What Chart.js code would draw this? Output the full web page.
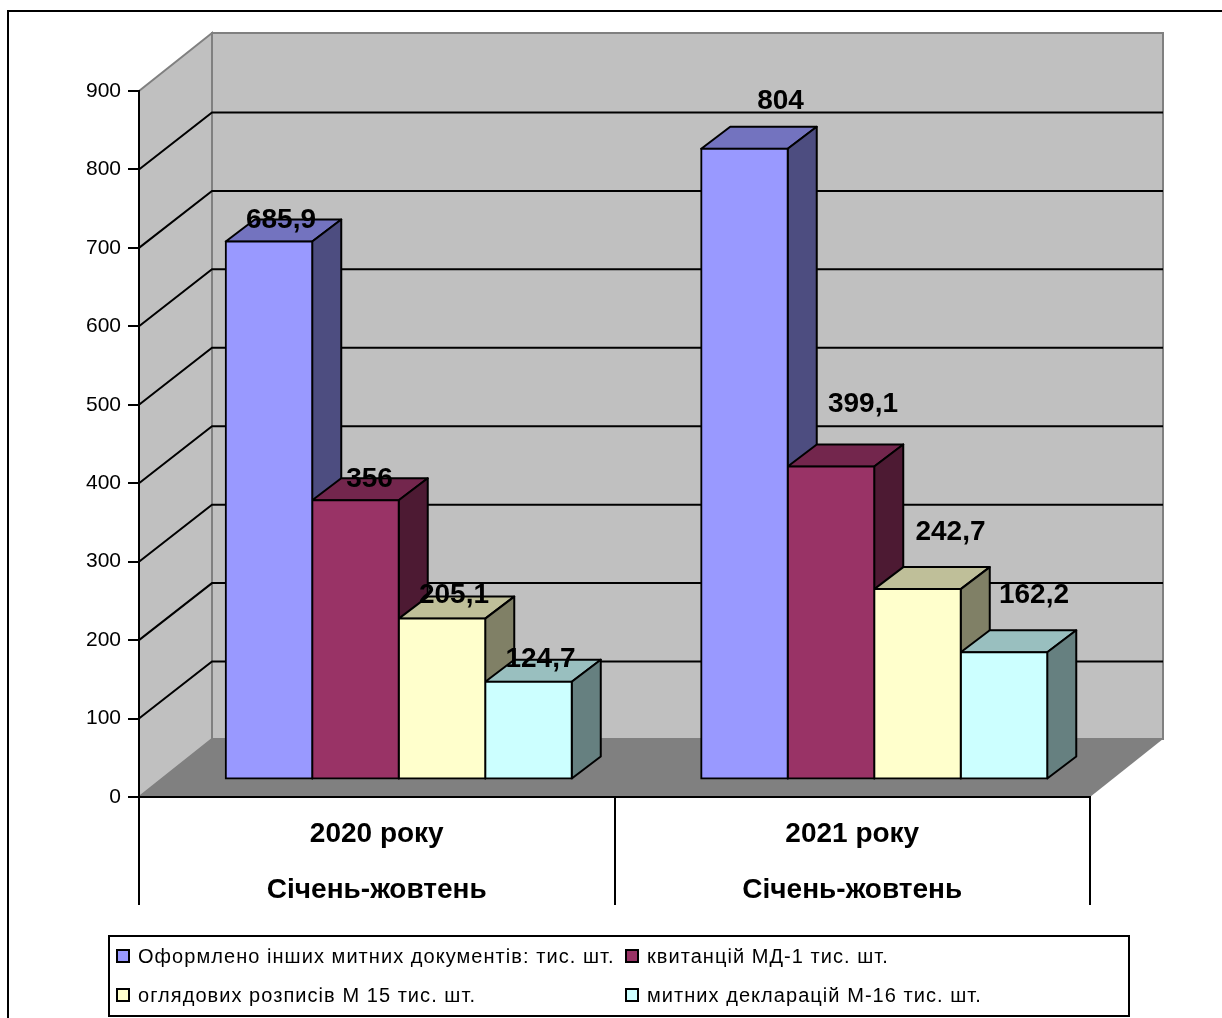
<!DOCTYPE html>
<html>
<head>
<meta charset="utf-8">
<script src="https://cdn.jsdelivr.net/npm/chart.js@4"></script>
<style>
  body { margin: 0; background: #fff; }
  canvas { display: block; }
</style>
</head>
<body>
<canvas id="chart" width="1222" height="1018"></canvas>
<script>
const categories = [['2020 року', 'Січень-жовтень'], ['2021 року', 'Січень-жовтень']];
const seriesNames = [
  'Оформлено інших митних документів: тис. шт.',
  'квитанцій МД-1 тис. шт.',
  'оглядових розписів М 15 тис. шт.',
  'митних декларацій М-16 тис. шт.'
];
const otherDocs = [685.9, 804];
const receipts = [356, 399.1];
const inspections = [205.1, 242.7];
const declarations = [124.7, 162.2];
const seriesValues = [otherDocs, receipts, inspections, declarations];
const seriesColors = ['#9999FF', '#993366', '#FFFFCC', '#CCFFFF'];
const topColors = ['#7373BF', '#73264D', '#BFBF99', '#99BFBF'];
const sideColors = ['#4D4D80', '#4D1A33', '#808066', '#668080'];

// excel's 3d look: how far the back wall and the bars sit from the front plane
const WALL_DX = 73, WALL_DY = -58, GRID_DY = -57;
const BAR_SHIFT_X = 22, BAR_SHIFT_Y = -17.5;
const BAR_DX = 29, BAR_DY = -22;
const FONT = '"Liberation Sans", Arial, sans-serif';

// data labels were hand placed in the original, offsets from bar front top centre
const labelShift = [
  [[12, -21], [36, -48]],
  [[14, -21], [32, -62]],
  [[12, -23], [33, -57]],
  [[12, -22], [30, -57]]
];

function poly(ctx, pts, fill, stroke, width) {
  ctx.beginPath();
  pts.forEach((p, i) => i ? ctx.lineTo(p[0], p[1]) : ctx.moveTo(p[0], p[1]));
  ctx.closePath();
  if (fill) { ctx.fillStyle = fill; ctx.fill(); }
  if (stroke) { ctx.strokeStyle = stroke; ctx.lineWidth = width; ctx.stroke(); }
}

const walls3d = {
  id: 'walls3d',
  beforeDraw(chart) {
    const { ctx, chartArea: a, scales: { y } } = chart;
    const bx = WALL_DX, by = WALL_DY;
    ctx.save();
    ctx.fillStyle = '#fff';
    ctx.fillRect(0, 0, chart.width, chart.height);
    ctx.strokeStyle = '#000';
    ctx.lineWidth = 2;
    ctx.strokeRect(8, 11, 2000, 2000);

    poly(ctx, [[a.left, a.top], [a.left + bx, a.top + by], [a.left + bx, a.bottom + by], [a.left, a.bottom]], '#C0C0C0', '#808080', 2);
    poly(ctx, [[a.left + bx, a.top + by], [a.right + bx, a.top + by], [a.right + bx, a.bottom + by], [a.left + bx, a.bottom + by]], '#C0C0C0', '#808080', 2);
    poly(ctx, [[a.left, a.bottom], [a.left + bx, a.bottom + by], [a.right + bx, a.bottom + by], [a.right, a.bottom]], '#808080');

    ctx.strokeStyle = '#000';
    ctx.lineWidth = 2;
    y.ticks.forEach(t => {
      if (t.value === 0 || t.value === y.max) return;
      const py = y.getPixelForValue(t.value);
      ctx.beginPath();
      ctx.moveTo(a.left, py);
      ctx.lineTo(a.left + bx, py + GRID_DY);
      ctx.lineTo(a.right + bx, py + GRID_DY);
      ctx.stroke();
    });
    ctx.restore();
  },
  // tops and sides go first, left to right, the library's bar fronts then cover them
  beforeDatasetsDraw(chart) {
    const ctx = chart.ctx;
    ctx.save();
    ctx.translate(BAR_SHIFT_X, BAR_SHIFT_Y);
    ctx.lineJoin = 'round';
    categories.forEach((c, j) => {
      seriesValues.forEach((vals, i) => {
        const bar = chart.getDatasetMeta(i).data[j];
        const p = bar.getProps(['x', 'y', 'base', 'width']);
        const l = p.x - p.width / 2, r = p.x + p.width / 2;
        poly(ctx, [[l, p.y], [l + BAR_DX, p.y + BAR_DY], [r + BAR_DX, p.y + BAR_DY], [r, p.y]], topColors[i], '#000', 2);
        poly(ctx, [[r, p.y], [r + BAR_DX, p.y + BAR_DY], [r + BAR_DX, p.base + BAR_DY], [r, p.base]], sideColors[i], '#000', 2);
      });
    });
    ctx.restore();
  },
  beforeDatasetDraw(chart) {
    chart.ctx.save();
    chart.ctx.translate(BAR_SHIFT_X, BAR_SHIFT_Y);
  },
  afterDatasetDraw(chart) {
    chart.ctx.restore();
  },
  afterDatasetsDraw(chart) {
    const ctx = chart.ctx;
    ctx.save();
    ctx.font = 'bold 28px ' + FONT;
    ctx.fillStyle = '#000';
    ctx.textAlign = 'center';
    ctx.textBaseline = 'middle';
    seriesValues.forEach((vals, i) => {
      const meta = chart.getDatasetMeta(i);
      vals.forEach((v, j) => {
        const bar = meta.data[j];
        const s = labelShift[i][j];
        ctx.fillText(String(v).replace('.', ','), bar.x + BAR_SHIFT_X + s[0], bar.y + BAR_SHIFT_Y + s[1]);
      });
    });
    ctx.restore();
  },
  afterDraw(chart) {
    const ctx = chart.ctx;
    ctx.save();
    ctx.fillStyle = '#fff';
    ctx.strokeStyle = '#000';
    ctx.lineWidth = 2;
    ctx.fillRect(109, 936, 1020, 80);
    ctx.strokeRect(109, 936, 1020, 80);
    const spots = [[117, 956], [626, 956], [117, 995], [626, 995]];
    ctx.font = '20px ' + FONT;
    ctx.letterSpacing = '1.05px';
    ctx.textBaseline = 'middle';
    ctx.textAlign = 'left';
    seriesNames.forEach((name, i) => {
      const [x, y] = spots[i];
      ctx.fillStyle = seriesColors[i];
      ctx.fillRect(x, y - 6, 12, 12);
      ctx.strokeRect(x, y - 6, 12, 12);
      ctx.fillStyle = '#000';
      ctx.fillText(name, x + 21, y + 1);
    });
    ctx.restore();
  }
};

new Chart(document.getElementById('chart'), {
  type: 'bar',
  data: {
    labels: categories,
    datasets: seriesNames.map((name, i) => ({
      label: name,
      data: seriesValues[i],
      backgroundColor: seriesColors[i],
      borderColor: '#000',
      borderWidth: 2,
      borderSkipped: false,
      inflateAmount: 1,
      clip: false
    }))
  },
  options: {
    responsive: false,
    animation: false,
    barPercentage: 1,
    categoryPercentage: 0.7277,
    layout: { padding: { top: 91, right: 132, left: 0, bottom: 0 } },
    plugins: { legend: { display: false }, tooltip: { enabled: false } },
    scales: {
      x: {
        afterFit(scale) { scale.height = 221; },
        border: { color: '#000', width: 2 },
        grid: { offset: true, drawOnChartArea: false, tickLength: 108, tickColor: '#000', lineWidth: 2 },
        ticks: {
          color: '#000',
          maxRotation: 0,
          padding: -99,
          font: { family: FONT, size: 28, weight: 'bold', lineHeight: 2 }
        }
      },
      y: {
        min: 0,
        max: 900,
        afterFit(scale) { scale.width = 139; },
        border: { color: '#000', width: 2 },
        grid: { drawOnChartArea: false, tickLength: 11, tickColor: '#000', lineWidth: 2 },
        ticks: {
          stepSize: 100,
          color: '#000',
          padding: 7,
          font: { family: FONT, size: 21 }
        }
      }
    }
  },
  plugins: [walls3d]
});
</script>
</body>
</html>
